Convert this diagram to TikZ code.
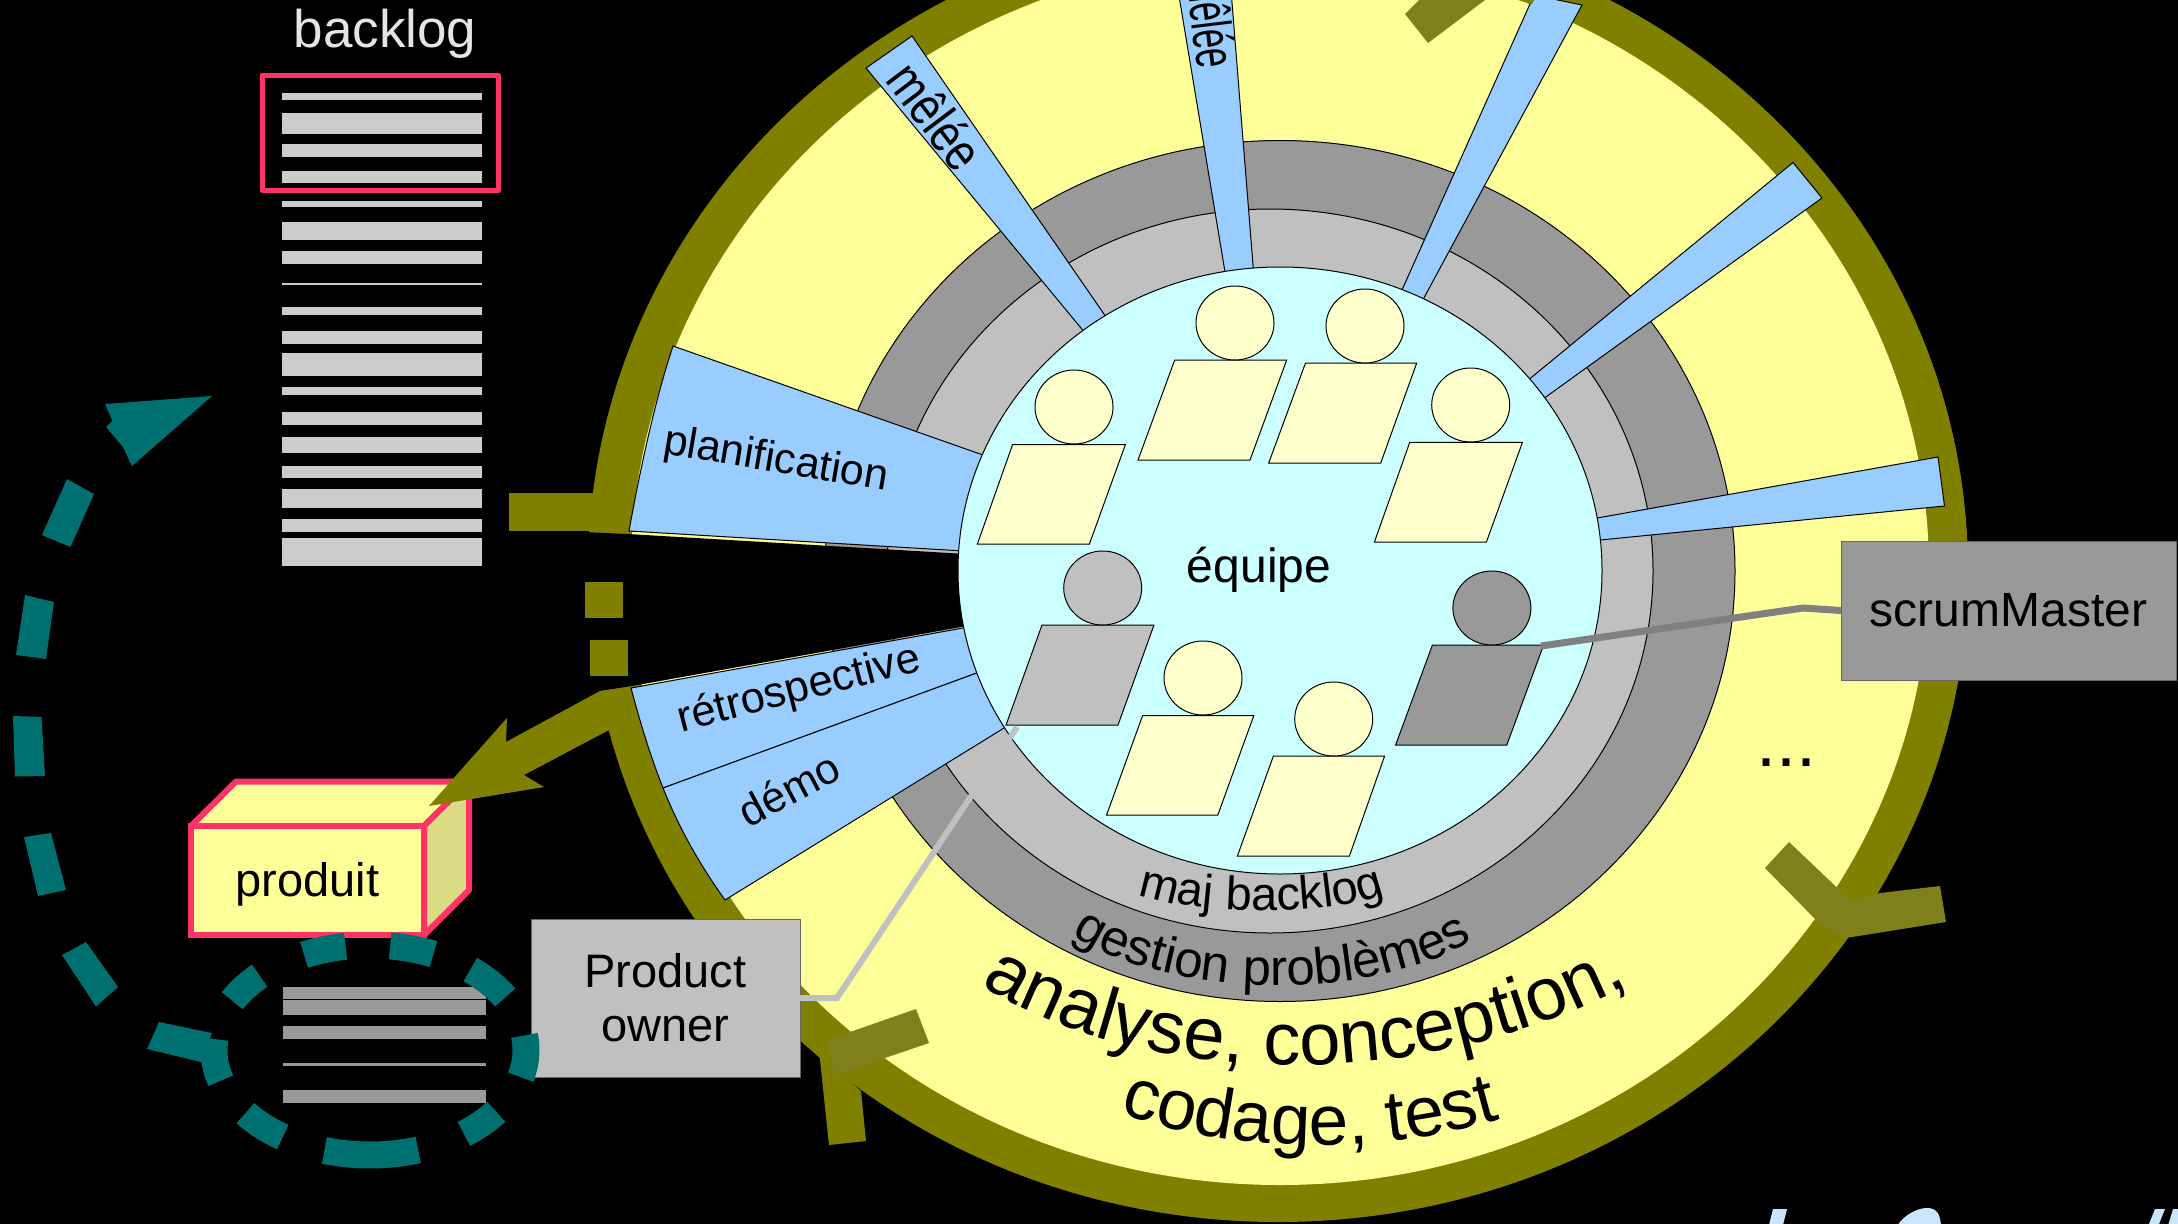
\documentclass[tikz,border=0pt]{standalone}
\usepackage{fontspec}
\setmainfont{Liberation Sans}
\usetikzlibrary{decorations.text,shapes.geometric}
\definecolor{olv}{HTML}{808000}
\definecolor{chev}{HTML}{7F7F1C}
\definecolor{yel}{HTML}{FFFF99}
\definecolor{cre}{HTML}{FFFFCC}
\definecolor{cya}{HTML}{CCFFFF}
\definecolor{blu}{HTML}{99CCFF}
\definecolor{gra}{HTML}{C0C0C0}
\definecolor{dgr}{HTML}{999999}
\definecolor{bar}{HTML}{CCCCCC}
\definecolor{tl}{HTML}{006F6F}
\definecolor{rd}{HTML}{FF3366}
\definecolor{sid}{HTML}{DBDB85}
\definecolor{pale}{HTML}{CCE5FF}
\newcommand{\fs}[1]{\fontsize{#1}{#1}\selectfont}
\newcommand{\tdash}[2]{\draw[tldash] plot[domain=#1:#2,samples=14] ({370+156*cos(\x)},{1050-105*sin(\x)});}
\newcommand{\bk}[2]{\fill[barfill] (282,#1) rectangle (482,#2);}
\newcommand{\sbk}[2]{\fill[sbarfill] (282.5,#1) rectangle (486,#2);}
\newcommand{\person}[7]{\filldraw[fill=#7,thin line] (#1,#5) -- (#2,#5) -- (#3,#6) -- (#4,#6) -- cycle;}
\tikzset{
  x=1pt,y=-1pt,
  thin line/.style={draw=black,line width=1pt},
  head/.style={ellipse,draw=black,line width=1pt,minimum width=78pt,minimum height=74pt,inner sep=0pt,outer sep=0pt},
  wedge/.style={fill=blu,draw=black,line width=1pt},
  lbl/.style={inner sep=0pt,outer sep=0pt,text=black},
  box/.style={draw=black!60,line width=1pt,inner sep=0pt,outer sep=0pt,align=center,text=black},
  tldash/.style={draw=tl,line width=27pt},
  barfill/.style={fill=bar},
  sbarfill/.style={fill=dgr},
  boxline/.style={draw=rd,line width=6pt,line join=round},
}
\begin{document}
\begin{tikzpicture}
\useasboundingbox (0,0) rectangle (2178,1223);
\fill[black] (-6,-6) rectangle (2184,1229);
\clip (-6,-6) rectangle (2184,1229);
% discs
\fill[olv] (1278,571) ellipse [x radius=690pt,y radius=651pt];
\fill[yel] (1280,571) ellipse [x radius=649pt,y radius=614pt];
\filldraw[fill=dgr,thin line] (1280,571) ellipse [x radius=455pt,y radius=430.5pt];
\filldraw[fill=gra,thin line] (1270,571) ellipse [x radius=383pt,y radius=362pt];
% gap
\fill[black] (560,531) -- (628,534) -- (1000,556) -- (1000,620) -- (632,686) -- (600,691) -- (560,700) -- cycle;
% tail
\fill[olv] (509,493) rectangle (594,531);
\fill[olv] (585,493) -- (600,493) -- (627,533) -- (589,531) -- cycle;
\fill[olv] (585,582) rectangle (623,618);
\fill[olv] (590,640) rectangle (628,676);
% backlog
\node[lbl,text=white!90!black] (backlog) at (385,34) {\fs{53}backlog};
\bk{93}{100.4}\bk{113.4}{133.6}\bk{144}{157}\bk{171}{183}\bk{201}{207}\bk{222}{239.5}
\bk{251}{263.6}\bk{282.6}{285.4}\bk{307}{315}\bk{331}{344}\bk{353}{375.5}\bk{387}{395}
\bk{412}{424.5}\bk{437}{453}\bk{465.6}{478}\bk{488.5}{508}\bk{519}{531.6}\bk{538}{566}
\draw[draw=rd,line width=5pt,line join=round] (262,75) rectangle (498,190);
% product box
\filldraw[fill=yel,boxline] (191,826) -- (236,781.5) -- (469,781.5) -- (424,826) -- cycle;
\filldraw[fill=sid,boxline] (424,826) -- (469,781.5) -- (469,890) -- (424,935) -- cycle;
\node[fill=yel,draw=rd,line width=6pt,minimum width=233pt,minimum height=109pt,inner sep=0pt,outer sep=0pt,text=black] (produit) at (307.5,880.5) {\raisebox{-16pt}[0pt][0pt]{\fs{47}produit}};
% olive arrow to product
\fill[olv] (600,691) -- (506,742) -- (507,718) -- (429,806) -- (544,787) -- (524,775) -- (609,730) -- (640,722) -- (636,686) -- cycle;
% blue wedges
\filldraw[wedge] (673,346) .. controls (655,400) and (640,470) .. (629,531) -- (980,552) -- (1000,461) -- cycle;
\filldraw[wedge] (631,688) .. controls (640,722) and (650,755) .. (663,788) -- (985,670) -- (985,624) -- cycle;
\filldraw[wedge] (663,788) .. controls (680,830) and (700,865) .. (725,900) -- (1030,712) -- (985,670) -- cycle;
\filldraw[wedge] (912,36) -- (866,68) -- (1095,345) -- (1115,330) -- cycle;
\filldraw[wedge] (1178,-10) -- (1228,290) -- (1255,290) -- (1231,-10) -- cycle;
\filldraw[wedge] (1534,-5) -- (1393,310) -- (1412,320) -- (1582,5) -- cycle;
\filldraw[wedge] (1793,162.5) -- (1510,395) -- (1525,412) -- (1822,198) -- cycle;
\filldraw[wedge] (1938,457) -- (1575,522) -- (1580,542) -- (1944.5,506) -- cycle;
% centre
\filldraw[fill=cya,thin line] (1280,570.5) ellipse [x radius=322pt,y radius=303.5pt];
% people
\person{1012.6}{1125.4}{1089.4}{977.4}{444.5}{544}{cre}
\person{1174.7}{1286.7}{1250}{1138}{360}{460}{cre}
\person{1305.5}{1416.7}{1380.7}{1268.7}{363}{463}{cre}
\person{1409.7}{1522.4}{1486.4}{1374.4}{442.4}{542}{cre}
\person{1042}{1154}{1118}{1006}{625}{725}{gra}
\person{1142.6}{1253.8}{1217.8}{1106.6}{715.5}{815}{cre}
\person{1273.4}{1384.6}{1349.4}{1237.4}{756}{856}{cre}
\person{1432.4}{1543.6}{1506.8}{1395.6}{645}{745}{dgr}
\node[head,fill=cre] (h1) at (1074,407) {};
\node[head,fill=cre] (h2) at (1235,323) {};
\node[head,fill=cre] (h3) at (1365,326) {};
\node[head,fill=cre] (h4) at (1470.7,405) {};
\node[head,fill=gra] (h5) at (1102.7,588) {};
\node[head,fill=cre] (h6) at (1203,678) {};
\node[head,fill=cre] (h7) at (1333.7,719) {};
\node[head,fill=dgr] (h8) at (1491.9,608) {};
\coordinate (p5end) at (1017,727);
\coordinate (p8end) at (1541,646);
% chevrons
\fill[chev] (1405,14) -- (1428,43) -- (1485,0) -- (1485,-6) -- (1425,-6) -- cycle;
\fill[olv] (1518,0) -- (1532,4) -- (1534,0) -- cycle;
\fill[chev] (1789,842) -- (1765,868) -- (1818,922) -- (1846,938) -- (1946,922) -- (1940,886) -- (1880,893) -- (1850,900) -- cycle;
\fill[olv] (819.5,1055) -- (829,1145) -- (866,1141) -- (861,1091) -- cycle;
\fill[chev] (916,1009) -- (929,1043) -- (835,1075) -- (827,1040) -- cycle;
% boxes and connectors
\node[box,fill=gra,minimum width=269pt,minimum height=158pt,font=\fontsize{47}{54}\selectfont] (po) at (665.5,998) {Product\\owner};
\node[box,fill=dgr,minimum width=335pt,minimum height=139pt] (sm) at (2008.5,610.5) {\fs{48}scrumMaster};
\draw[gra,line width=6pt] (po.east) -- (837,998) -- (p5end);
\draw[black!50,line width=7pt] (sm.west) -- (1803,608) -- (p8end);
% sprint backlog
\sbk{986.5}{999}\sbk{1000}{1014.6}\sbk{1026}{1039}\sbk{1063}{1066}\sbk{1090}{1103}
% teal dashes
\tdash{99}{115}\tdash{66}{82.6}\tdash{30}{50}\tdash{-15}{8}\tdash{-53}{-36}\tdash{-107}{-72}\tdash{-143}{-124}\tdash{174}{197}\tdash{135}{152}
\fill[tl] (159,1022) -- (212,1033) -- (201,1062) -- (147,1049) -- cycle;
\fill[tl] (86,942) -- (118,987) -- (96,1006.5) -- (62,955) -- cycle;
\fill[tl] (24,837) -- (51,833) -- (66,890) -- (38,896) -- cycle;
\fill[tl] (13,716) -- (41.5,717) -- (45,776) -- (15,776.5) -- cycle;
\fill[tl] (25,595) -- (54,602) -- (46,659) -- (16,655) -- cycle;
\fill[tl] (67,479) -- (94,494) -- (70.5,547) -- (42,535) -- cycle;
\fill[tl] (212,396) -- (105,404) -- (112.5,421) -- (106,427) -- (123,447) -- (132,466) -- cycle;
% labels
\node[lbl] (equipe) at (1259,570) {\fs{48}équipe};
\node[lbl,rotate=-9.5] (planif) at (776,461) {\fs{43}planification};
\node[lbl,rotate=14.4] (retro) at (799,690) {\fs{43.5}rétrospective};
\node[lbl,rotate=28] (demo) at (789,789) {\fs{43}démo};
\node[lbl,rotate=-53,xscale=.8] (melee1) at (936,116) {\fs{54}mêlée};
\node[lbl,rotate=-83,xscale=.62] (melee2) at (1212,20) {\fs{56}mêlée};
\node[lbl] (dots) at (1786,763) {\fs{72}...};
\path[decorate,decoration={text along path,text align=center,text={|\fs{47}|maj backlog}}] (1135,893) .. controls (1190,915) and (1330,918) .. (1388,893);
\path[decorate,decoration={text along path,text align=center,text={|\fs{51}|gestion problèmes}}] (1065,930) .. controls (1160,1000) and (1380,1005) .. (1480,935);
\path[decorate,decoration={text along path,text align=center,text={|\fs{74}|analyse, conception,}}] (965,975) .. controls (1130,1090) and (1430,1100) .. (1645,975);
\path[decorate,decoration={text along path,text align=center,text={|\fs{71}|codage, test}}] (1115,1112) .. controls (1240,1155) and (1380,1155) .. (1505,1118);
% cut-off title fragments
\fill[pale] (1773,1209) -- (1787,1209) -- (1782,1229) -- (1768,1229) -- cycle;
\fill[pale] (1899,1229) -- (1899,1223) .. controls (1908,1212) and (1920,1208) .. (1927,1208) .. controls (1936,1208) and (1941,1213) .. (1941,1229) -- cycle;
\fill[pale] (2155,1209) -- (2165,1209) -- (2157,1229) -- (2147,1229) -- cycle;
\fill[pale] (2173,1209) -- (2184,1209) -- (2184,1229) -- (2167,1229) -- cycle;
\end{tikzpicture}
\end{document}
